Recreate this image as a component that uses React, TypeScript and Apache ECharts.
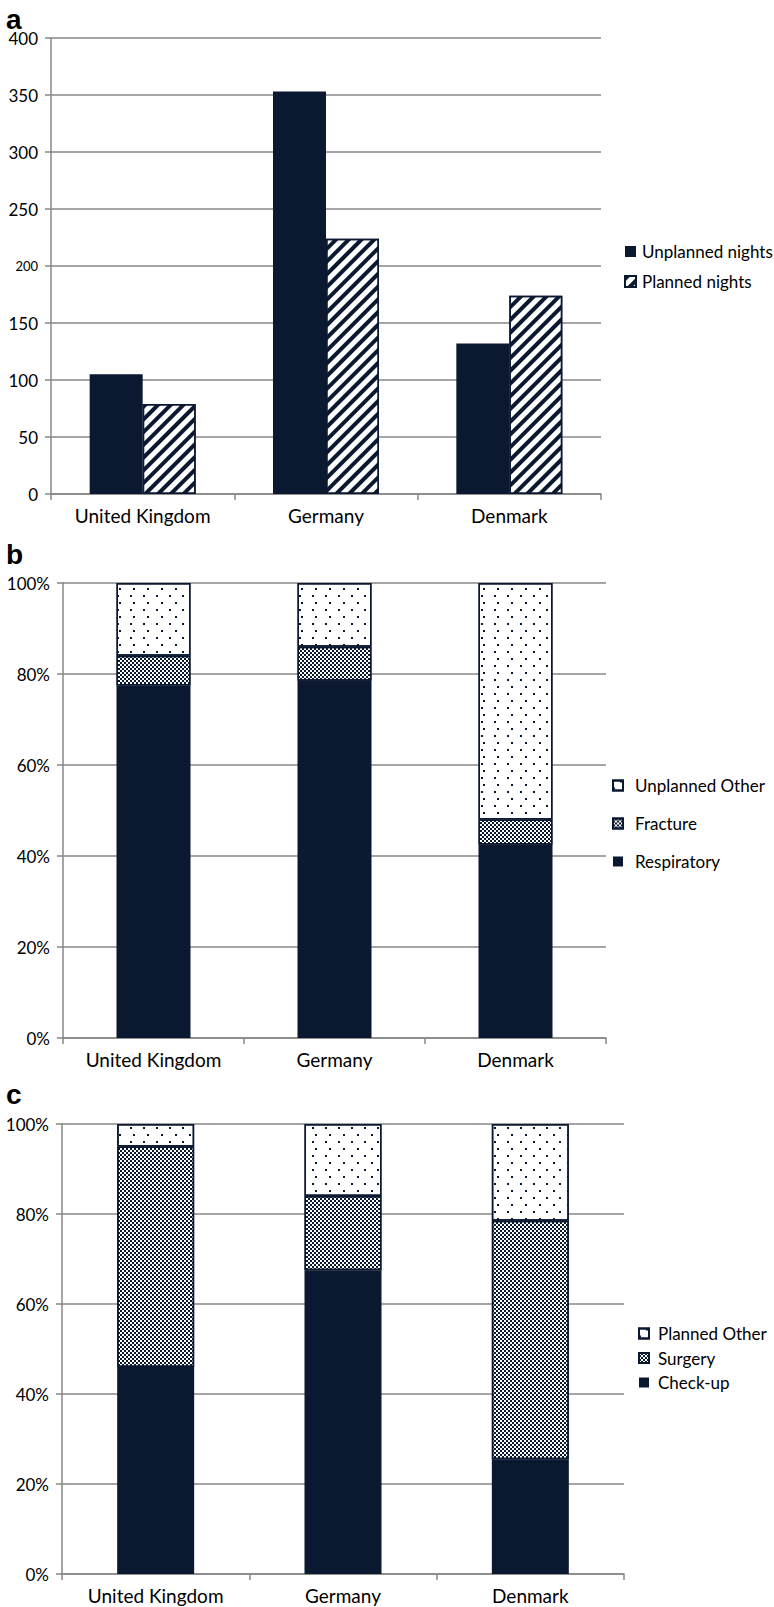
import React, { useEffect, useRef } from "react";
import * as echarts from "echarts";

const countries = ["United Kingdom", "Germany", "Denmark"];

// Panel a: nights
const unplannedNights = [105, 353, 132];
const plannedNights = [79, 224, 174];
const nightsTicks = [0, 50, 100, 150, 200, 250, 300, 350, 400];

// Panel b: unplanned reasons (%)
const respiratory = [77.5, 78.5, 42.5];
const fracture = [6.5, 7.5, 5.5];
const unplannedOther = [16, 14, 52];

// Panel c: planned reasons (%)
const checkUp = [46, 67.5, 25.5];
const surgery = [49, 16.5, 53];
const plannedOther = [5, 16, 21.5];

const NAVY = "#0b1930";
const GRAY = "#878787";
const FONT = "Lato";

const stripes = {
  symbol: "rect",
  symbolSize: 1,
  dashArrayX: [1, 0],
  dashArrayY: [4, 5],
  rotation: -Math.PI / 4,
  color: NAVY,
};
const checker = {
  symbol: "rect",
  symbolSize: 1,
  dashArrayX: [
    [2, 2],
    [0, 2, 2, 0],
  ],
  dashArrayY: [2, 0],
  color: NAVY,
};
const dots = {
  symbol: "rect",
  symbolSize: 1,
  dashArrayX: [
    [1.6, 10.9],
    [0, 6.25, 1.6, 4.65],
  ],
  dashArrayY: [1.6, 4.7],
  color: NAVY,
};

function xAxis(gridIndex: number) {
  return {
    type: "category",
    gridIndex,
    data: countries,
    axisLine: { show: true, lineStyle: { color: GRAY, width: 1.5 } },
    axisTick: { show: true, length: 6, lineStyle: { color: GRAY, width: 1.5 } },
    axisLabel: { interval: 0, fontSize: 19, color: "#000", fontFamily: FONT, margin: 12 },
  };
}

function yAxisPct(gridIndex: number) {
  return {
    type: "value",
    gridIndex,
    min: 0,
    max: 100,
    interval: 20,
    axisLine: { show: true, lineStyle: { color: GRAY, width: 1.5 } },
    axisTick: { show: true, length: 6, lineStyle: { color: GRAY, width: 1.5 } },
    axisLabel: { formatter: "{value}%", fontSize: 17, color: "#000", fontFamily: FONT, margin: 13 },
    splitLine: { show: true, lineStyle: { color: GRAY, width: 1.5 } },
  };
}

const legendText = (padLeft: number) => ({
  fontSize: 17,
  fontFamily: FONT,
  color: "#000",
  padding: [0, 0, 0, padLeft],
});

const letter = (text: string, top: number) => ({
  type: "text",
  left: 6,
  top,
  style: {
    text,
    fontSize: 28,
    lineHeight: 18,
    fontWeight: "bold",
    fontFamily: "Liberation Sans",
    fill: "#000",
  },
});

export default function App() {
  const ref = useRef<HTMLDivElement>(null);
  useEffect(() => {
    if (!ref.current) return;
    const chart = echarts.init(ref.current, null, { renderer: "svg" });
    const borderStyle = { borderColor: NAVY, borderWidth: 1.5 };
    chart.setOption({
      animation: false,
      backgroundColor: "#ffffff",
      grid: [
        { left: 51, top: 38, width: 550, height: 456 },
        { left: 63, top: 583, width: 543, height: 455 },
        { left: 62, top: 1124, width: 562, height: 450 },
      ],
      xAxis: [xAxis(0), xAxis(1), xAxis(2)],
      yAxis: [
        {
          type: "value",
          gridIndex: 0,
          min: 0,
          max: 400,
          interval: 50,
          axisLine: { show: true, lineStyle: { color: GRAY, width: 1.5 } },
          axisTick: { show: true, length: 6, lineStyle: { color: GRAY, width: 1.5 } },
          axisLabel: {
            fontSize: 17,
            color: "#000",
            fontFamily: FONT,
            margin: 13,
            formatter: (v: number) => (v === nightsTicks[4] ? "{s|" + v + "}" : String(v)),
            rich: { s: { fontSize: 13, fontFamily: FONT, color: "#000" } },
          },
          splitLine: { show: true, lineStyle: { color: GRAY, width: 1.5 } },
        },
        yAxisPct(1),
        yAxisPct(2),
      ],
      legend: [
        {
          data: ["Unplanned nights", "Planned nights"],
          orient: "vertical",
          left: 619,
          top: 238,
          itemWidth: 11,
          itemHeight: 11,
          itemGap: 13,
          icon: "rect",
          selectedMode: false,
          textStyle: legendText(1),
        },
        {
          data: ["Unplanned Other", "Fracture", "Respiratory"],
          orient: "vertical",
          left: 607,
          top: 772,
          itemWidth: 10,
          itemHeight: 10,
          itemGap: 21,
          icon: "rect",
          selectedMode: false,
          textStyle: legendText(7),
        },
        {
          data: ["Planned Other", "Surgery", "Check-up"],
          orient: "vertical",
          left: 633,
          top: 1320,
          itemWidth: 10,
          itemHeight: 10,
          itemGap: 7.5,
          icon: "rect",
          selectedMode: false,
          textStyle: legendText(4),
        },
      ],
      graphic: [letter("a", 5), letter("b", 540), letter("c", 1080)],
      series: [
        {
          type: "bar",
          name: "Unplanned nights",
          xAxisIndex: 0,
          yAxisIndex: 0,
          data: unplannedNights,
          barWidth: 53,
          barGap: "0%",
          itemStyle: { color: NAVY },
        },
        {
          type: "bar",
          name: "Planned nights",
          xAxisIndex: 0,
          yAxisIndex: 0,
          data: plannedNights,
          barWidth: 53,
          barGap: "0%",
          itemStyle: { color: "#ffffff", ...borderStyle, decal: stripes },
        },
        {
          type: "bar",
          name: "Respiratory",
          xAxisIndex: 1,
          yAxisIndex: 1,
          stack: "b",
          data: respiratory,
          barWidth: 74,
          itemStyle: { color: NAVY },
        },
        {
          type: "bar",
          name: "Fracture",
          xAxisIndex: 1,
          yAxisIndex: 1,
          stack: "b",
          data: fracture,
          barWidth: 74,
          itemStyle: { color: "#ffffff", ...borderStyle, decal: checker },
        },
        {
          type: "bar",
          name: "Unplanned Other",
          xAxisIndex: 1,
          yAxisIndex: 1,
          stack: "b",
          data: unplannedOther,
          barWidth: 74,
          itemStyle: { color: "#ffffff", ...borderStyle, decal: dots },
        },
        {
          type: "bar",
          name: "Check-up",
          xAxisIndex: 2,
          yAxisIndex: 2,
          stack: "c",
          data: checkUp,
          barWidth: 77,
          itemStyle: { color: NAVY },
        },
        {
          type: "bar",
          name: "Surgery",
          xAxisIndex: 2,
          yAxisIndex: 2,
          stack: "c",
          data: surgery,
          barWidth: 77,
          itemStyle: { color: "#ffffff", ...borderStyle, decal: checker },
        },
        {
          type: "bar",
          name: "Planned Other",
          xAxisIndex: 2,
          yAxisIndex: 2,
          stack: "c",
          data: plannedOther,
          barWidth: 77,
          itemStyle: { color: "#ffffff", ...borderStyle, decal: dots },
        },
      ],
    });
    return () => chart.dispose();
  }, []);
  return (
    <div
      ref={ref}
      style={{ position: "absolute", left: 0, top: 0, width: 774, height: 1607, background: "#fff" }}
    />
  );
}
